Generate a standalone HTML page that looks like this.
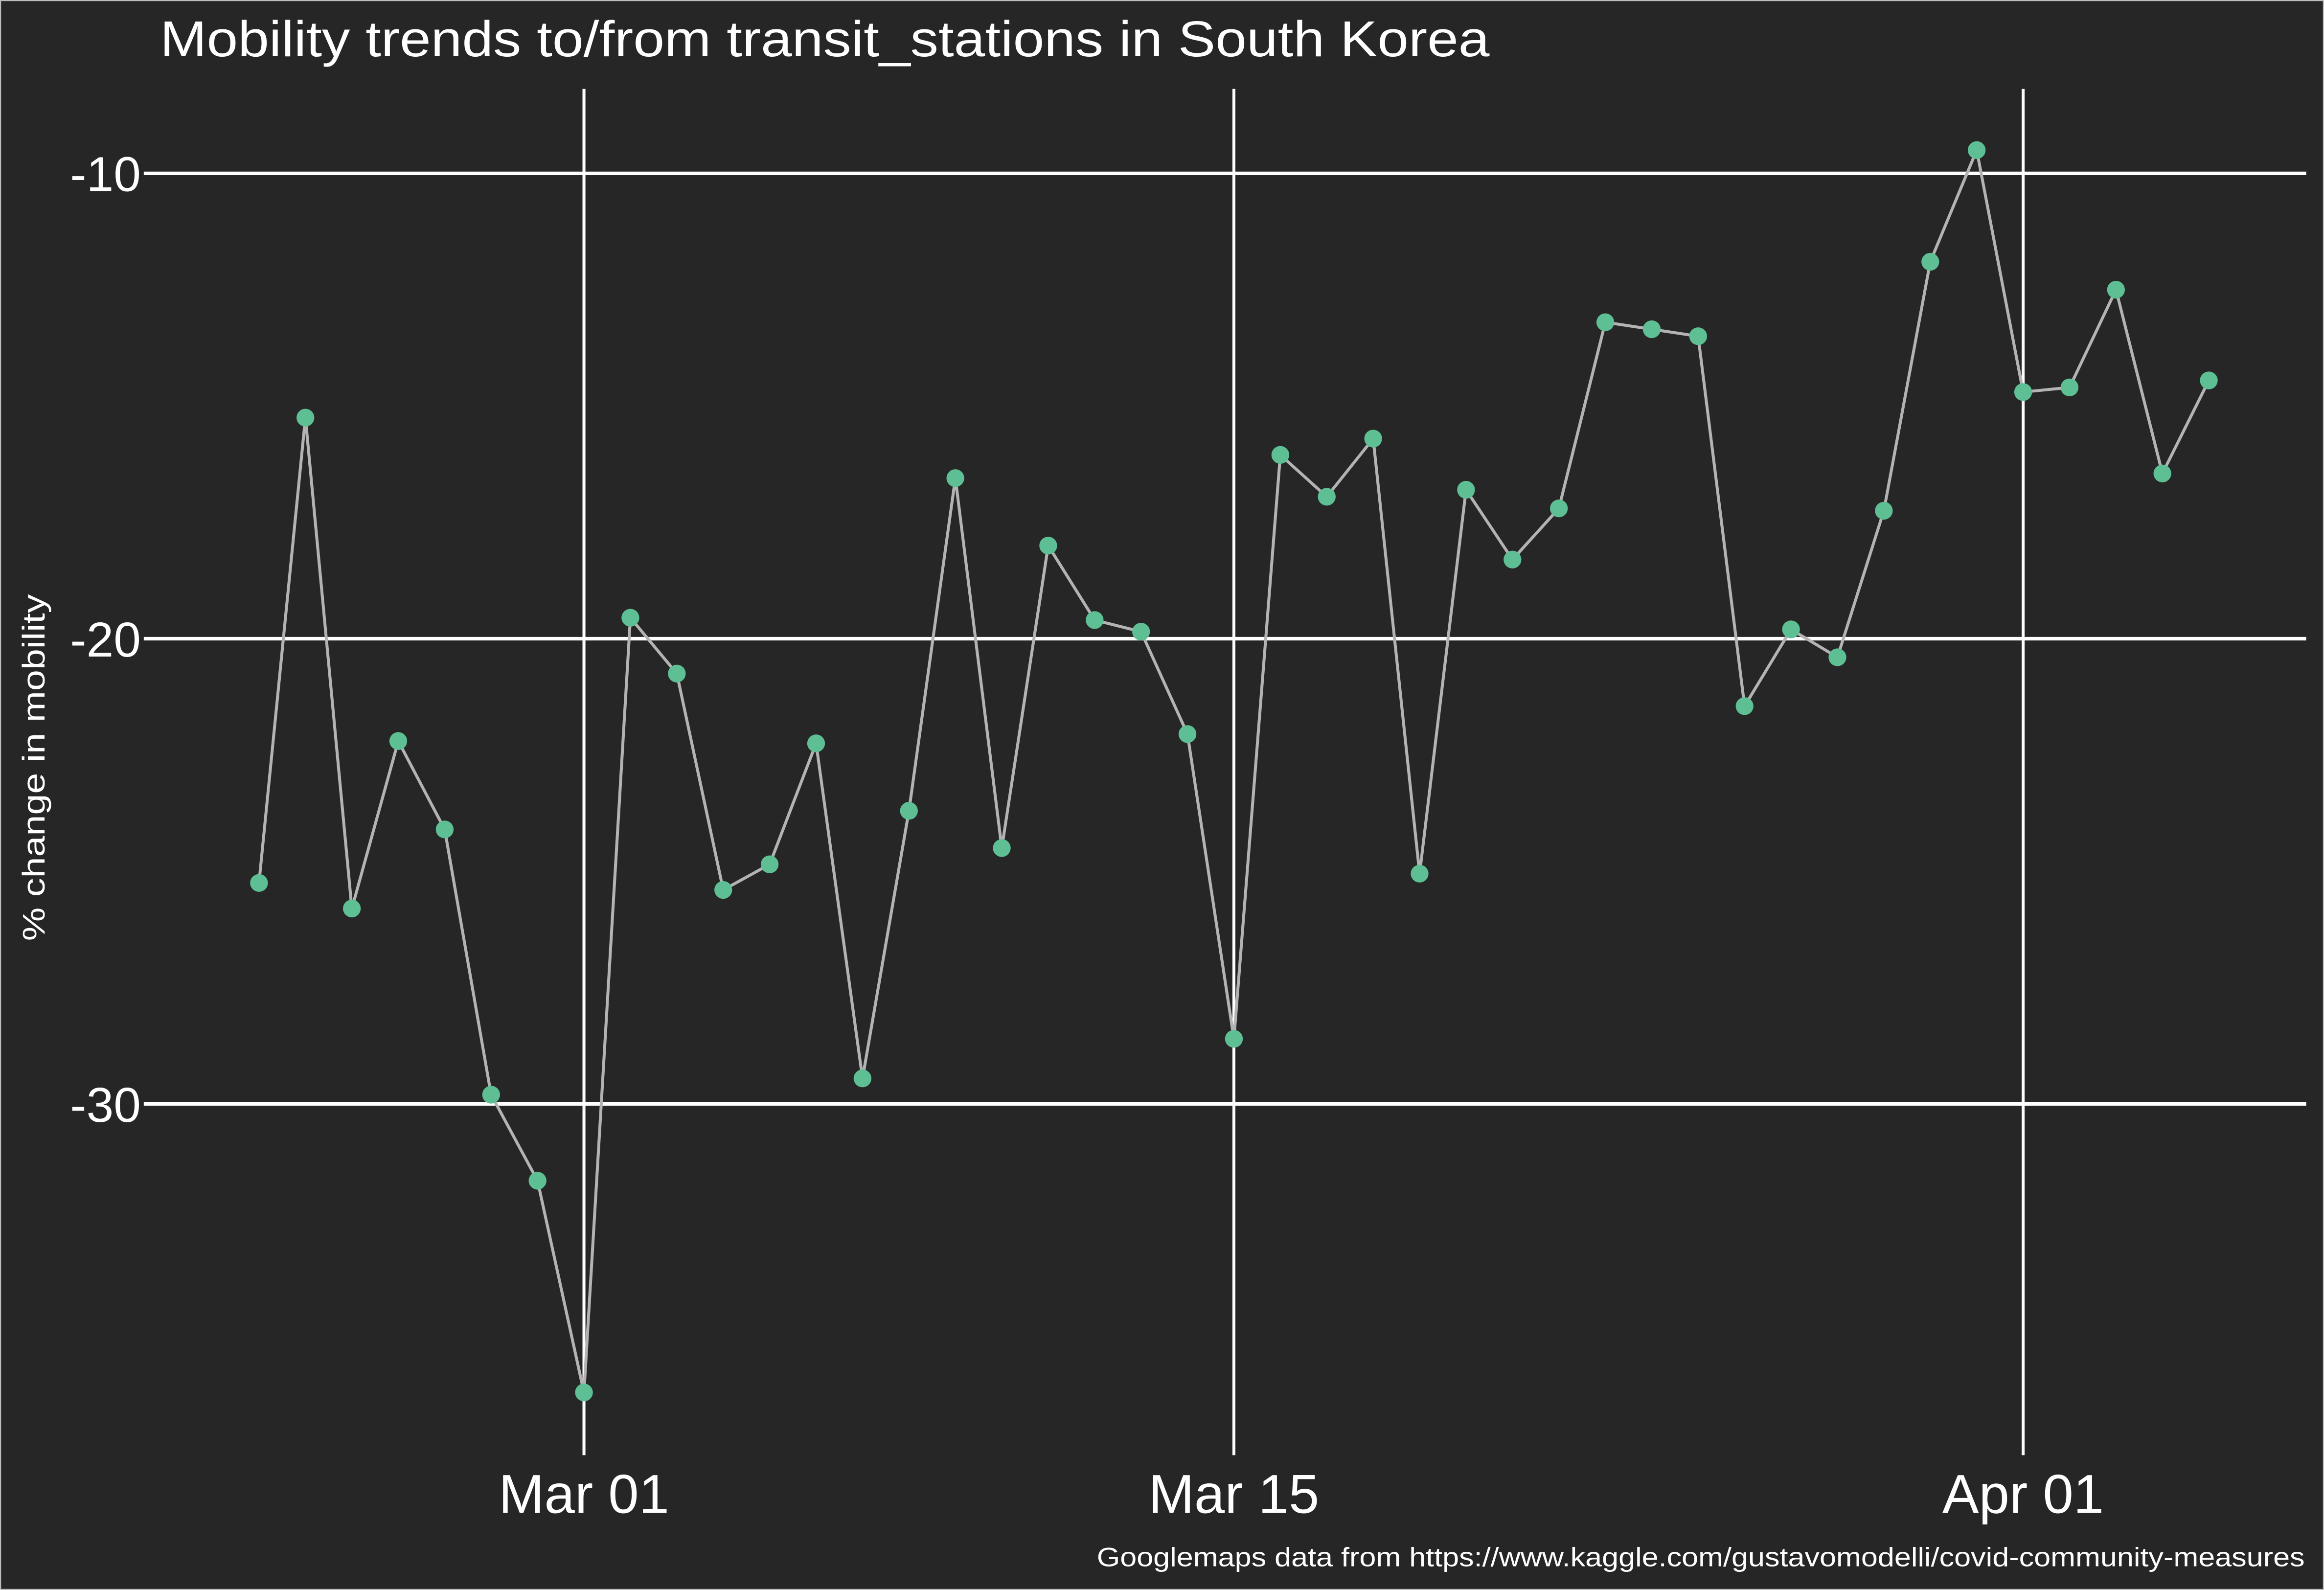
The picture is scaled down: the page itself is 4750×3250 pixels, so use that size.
<!DOCTYPE html>
<html><head><meta charset="utf-8">
<style>
html,body{margin:0;padding:0;background:#262626;}
svg{display:block;}
text{font-family:"Liberation Sans",sans-serif;fill:#ffffff;}
</style></head>
<body>
<svg id="chart" width="4750" height="3250" viewBox="0 0 1568 1073" preserveAspectRatio="none" xmlns="http://www.w3.org/2000/svg">
<rect x="0" y="0" width="1568" height="1073" fill="#262626" stroke="#bdbdbd" stroke-width="1.5"/>
<text x="108" y="38" font-size="34" textLength="897" lengthAdjust="spacingAndGlyphs">Mobility trends to/from transit_stations in South Korea</text>
<text transform="translate(30,518) rotate(-90)" text-anchor="middle" font-size="21" textLength="234" lengthAdjust="spacingAndGlyphs">% change in mobility</text>
<text x="1555" y="1057" text-anchor="end" font-size="18" textLength="815" lengthAdjust="spacingAndGlyphs">Googlemaps data from https://www.kaggle.com/gustavomodelli/covid-community-measures</text>
<g id="grid"></g>
<g id="series"></g>
</svg>
<script>
const values = [-25.25,-15.25,-25.8,-22.2,-24.1,-29.8,-31.65,-36.2,-19.55,-20.75,-25.4,-24.85,-22.25,-29.45,-23.7,-16.55,-24.5,-18.0,-19.6,-19.85,-22.05,-28.6,-16.05,-16.95,-15.7,-25.05,-16.8,-18.3,-17.2,-13.2,-13.35,-13.5,-21.45,-19.8,-20.4,-17.25,-11.9,-9.5,-14.7,-14.6,-12.5,-16.45,-14.45];
const xTickDays = [7, 21, 38];
const xTickLabels = ["Mar 01", "Mar 15", "Apr 01"];
const yTicks = [-10, -20, -30];
const yTickLabels = ["-10", "-20", "-30"];

const NS = "http://www.w3.org/2000/svg";
function x(d){ return 394 + (d - 7) * (971 / 31); }
function y(v){ return 117 + (-10 - v) * 31.4; }
function mk(tag, attrs, parent){
  const e = document.createElementNS(NS, tag);
  for (const k in attrs) e.setAttribute(k, attrs[k]);
  parent.appendChild(e);
  return e;
}
const grid = document.getElementById('grid');
const series = document.getElementById('series');
yTicks.forEach((t, i) => {
  const l = mk('line', {x1: 97, x2: 1556, y1: y(t), y2: y(t), stroke: '#ffffff', 'stroke-width': 2.4}, grid);
  
  
  const tx = mk('text', {x: 95, y: y(t) + 12, 'text-anchor': 'end', 'font-size': 33}, grid);
  tx.textContent = yTickLabels[i];
  
  
});
xTickDays.forEach((d, i) => {
  const l = mk('line', {x1: x(d), x2: x(d), y1: 60, y2: 982, stroke: '#ffffff', 'stroke-width': 2}, grid);
  
  
  const tx = mk('text', {x: x(d), y: 1021, 'text-anchor': 'middle', 'font-size': 37}, grid);
  tx.textContent = xTickLabels[i];
  
  
});
const pts = values.map((v, i) => x(i).toFixed(2) + ',' + y(v).toFixed(2)).join(' ');
const line = mk('polyline', {points: pts, fill: 'none', stroke: '#b3b3b3', 'stroke-width': 2}, series);


values.forEach((v, i) => {
  const c = mk('circle', {cx: x(i), cy: y(v), r: 6, fill: '#5dbf93'}, series);
  
  
});
</script>
</body></html>
